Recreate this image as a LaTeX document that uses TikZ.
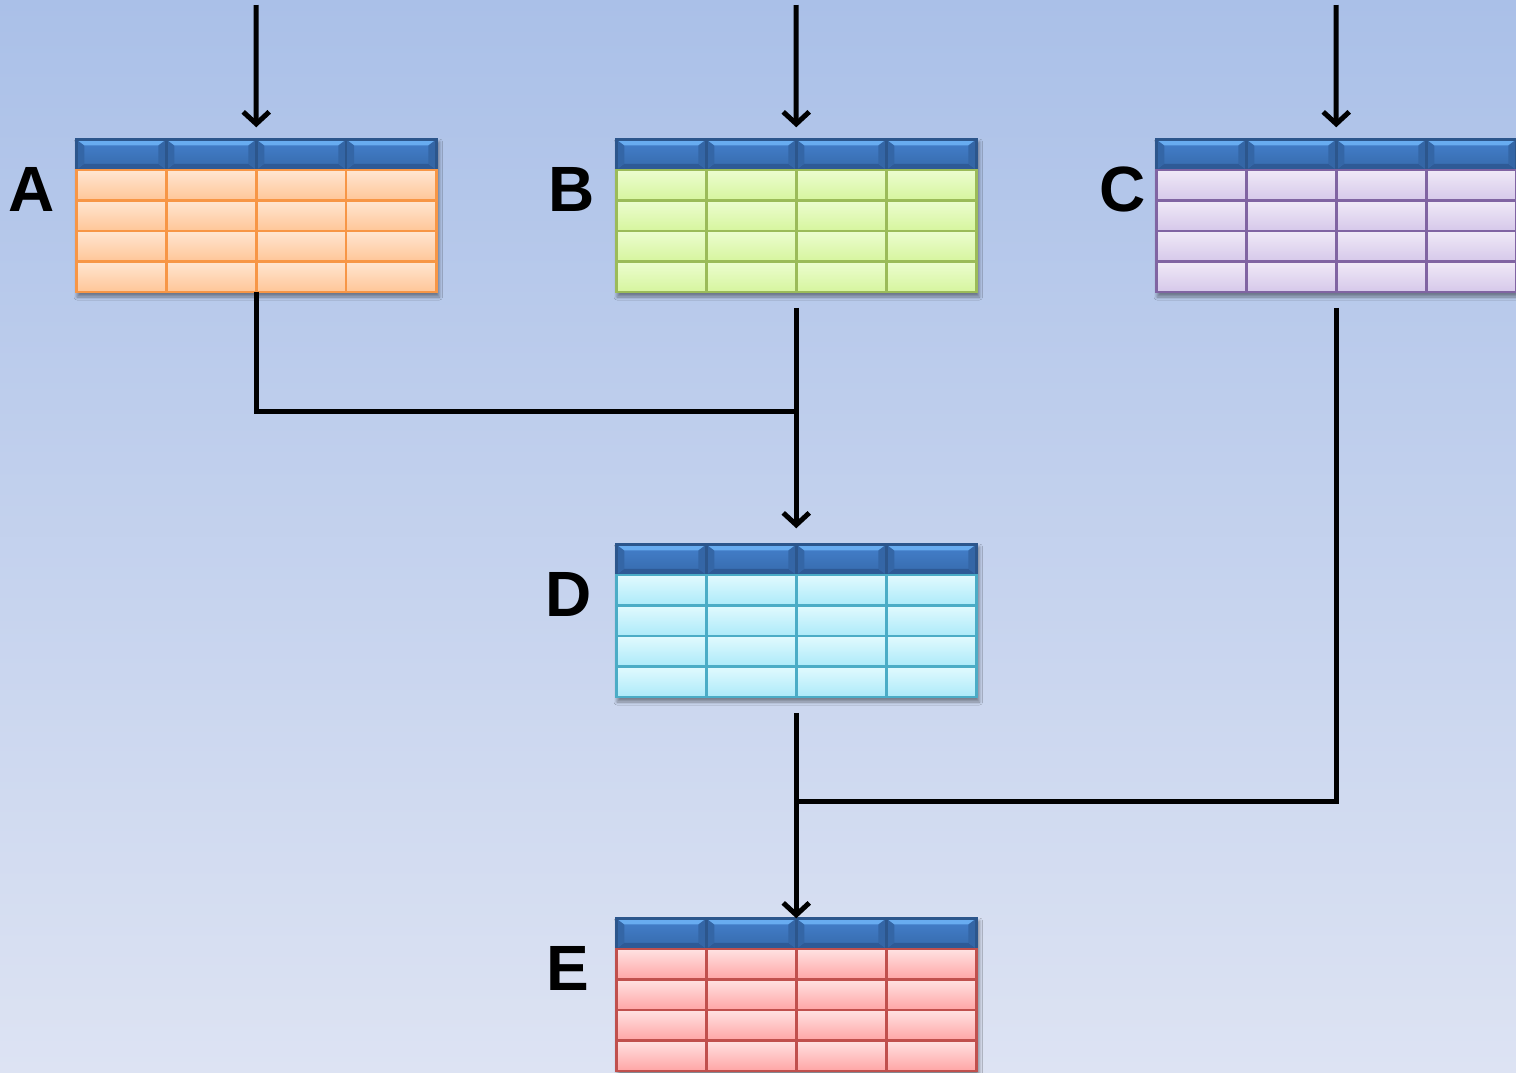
\documentclass[tikz,border=0pt]{standalone}
\usepackage{fontspec}
\setsansfont{Liberation Sans}
\usepackage{tikz}
\usetikzlibrary{matrix}
\usetikzlibrary{positioning}
\usetikzlibrary{arrows.meta}
\usetikzlibrary{shadows.blur}

\definecolor{bgtop}{RGB}{170,192,232}
\definecolor{bgbot}{RGB}{221,227,243}
\definecolor{hdtop}{RGB}{68,128,204}
\definecolor{hdbot}{RGB}{54,106,172}
\definecolor{hdhi}{RGB}{104,172,240}
\definecolor{hdlo}{RGB}{46,90,150}
\definecolor{hdside}{RGB}{52,102,166}
\definecolor{hdline}{RGB}{44,86,140}
\definecolor{ortop}{RGB}{255,230,210}
\definecolor{orbot}{RGB}{255,198,152}
\definecolor{orline}{RGB}{247,150,70}
\definecolor{grtop}{RGB}{236,253,208}
\definecolor{grbot}{RGB}{214,245,158}
\definecolor{grline}{RGB}{155,187,89}
\definecolor{putop}{RGB}{240,234,247}
\definecolor{pubot}{RGB}{214,200,234}
\definecolor{puline}{RGB}{128,100,162}
\definecolor{cytop}{RGB}{226,250,254}
\definecolor{cybot}{RGB}{172,234,249}
\definecolor{cyline}{RGB}{75,172,198}
\definecolor{retop}{RGB}{255,226,226}
\definecolor{rebot}{RGB}{255,166,166}
\definecolor{reline}{RGB}{192,80,77}

\begin{document}
\begin{tikzpicture}
[x=1pt,y=-1pt,line width=5pt,line join=miter,
  >={Straight Barb[length=12pt,width=26pt]},
  tbl/.style={matrix of nodes,nodes in empty cells,inner sep=0pt,
    outer sep=0pt,column sep=-2.5pt,row sep=-2.5pt,anchor=north west,
    blur shadow={shadow xshift=2pt,shadow yshift=-4pt,shadow blur steps=6,
      shadow blur radius=3pt,shadow opacity=40},
    nodes={rectangle,draw,line width=2.5pt,minimum width=90pt,
      minimum height=30.5pt,inner sep=0pt,outer sep=0pt},
    row 1/.style={nodes=hdr cell}},
  hdr cell/.style={draw=hdline,top color=hdtop,bottom color=hdbot,
    path picture={
      \fill[hdlo] (path picture bounding box.south west)
        -- (path picture bounding box.south east)
        -- ([xshift=-8pt,yshift=6pt]path picture bounding box.south east)
        -- ([xshift=8pt,yshift=6pt]path picture bounding box.south west)
        -- cycle;
      \fill[hdside] (path picture bounding box.north west)
        -- ([xshift=8pt,yshift=-6pt]path picture bounding box.north west)
        -- ([xshift=8pt,yshift=6pt]path picture bounding box.south west)
        -- (path picture bounding box.south west) -- cycle;
      \fill[hdside] (path picture bounding box.north east)
        -- ([xshift=-8pt,yshift=-6pt]path picture bounding box.north east)
        -- ([xshift=-8pt,yshift=6pt]path picture bounding box.south east)
        -- (path picture bounding box.south east) -- cycle;
      \fill[hdhi] (path picture bounding box.north west)
        -- (path picture bounding box.north east)
        -- ([xshift=-8pt,yshift=-6pt]path picture bounding box.north east)
        -- ([xshift=8pt,yshift=-6pt]path picture bounding box.north west)
        -- cycle;}},
  or cells/.style={nodes={top color=ortop,bottom color=orbot,draw=orline}},
  gr cells/.style={nodes={top color=grtop,bottom color=grbot,draw=grline}},
  pu cells/.style={nodes={top color=putop,bottom color=pubot,draw=puline}},
  cy cells/.style={nodes={top color=cytop,bottom color=cybot,draw=cyline}},
  re cells/.style={nodes={top color=retop,bottom color=rebot,draw=reline}},
  lbl/.style={inner sep=0pt,outer sep=0pt,yshift=26pt,
    font=\sffamily\bfseries\fontsize{64}{64}\selectfont}]

    \fill[top color=bgtop,bottom color=bgbot] (0,0) rectangle (1516,1072);
    \useasboundingbox (0,0) rectangle (1516,1072);

    \matrix (A) [tbl,or cells] at (75,138) {&&&\\&&&\\&&&\\&&&\\&&&\\};
    \matrix (B) [tbl,gr cells] at (615,138) {&&&\\&&&\\&&&\\&&&\\&&&\\};
    \matrix (C) [tbl,pu cells] at (1155,138) {&&&\\&&&\\&&&\\&&&\\&&&\\};
    \matrix (D) [tbl,cy cells] at (615,543) {&&&\\&&&\\&&&\\&&&\\&&&\\};
    \matrix (E) [tbl,re cells] at (615,917) {&&&\\&&&\\&&&\\&&&\\&&&\\};

    \node [lbl] (la) [left=20pt of A.west] {A};
    \node [lbl] (lb) [left=20pt of B.west] {B};
    \node [lbl] (lc) [left=9pt of C.west] {C};
    \node [lbl] (ld) [left=23pt of D.west] {D};
    \node [lbl] (le) [left=26pt of E.west] {E};

    \coordinate (inA) at (256,5);
    \coordinate (inB) at (796,5);
    \coordinate (inC) at (1336,5);
    \coordinate (jAB) at (796,411);
    \coordinate (jCD) at (796,801);

    \draw[->] (inA) -- ([yshift=12pt]A-1-3.north west);
    \draw[->] (inB) -- ([yshift=12pt]B-1-3.north west);
    \draw[->] (inC) -- ([yshift=12pt]C-1-3.north west);

    \draw (A-5-3.south west) |- (jAB);
    \draw[->] ([yshift=-16pt]B-5-3.south west) -- ([yshift=16pt]D-1-3.north west);
    \draw ([yshift=-16pt]C-5-3.south west) |- (jCD);
    \draw[->] ([yshift=-16pt]D-5-3.south west) -- (E-1-3.north west);
\end{tikzpicture}
\end{document}
